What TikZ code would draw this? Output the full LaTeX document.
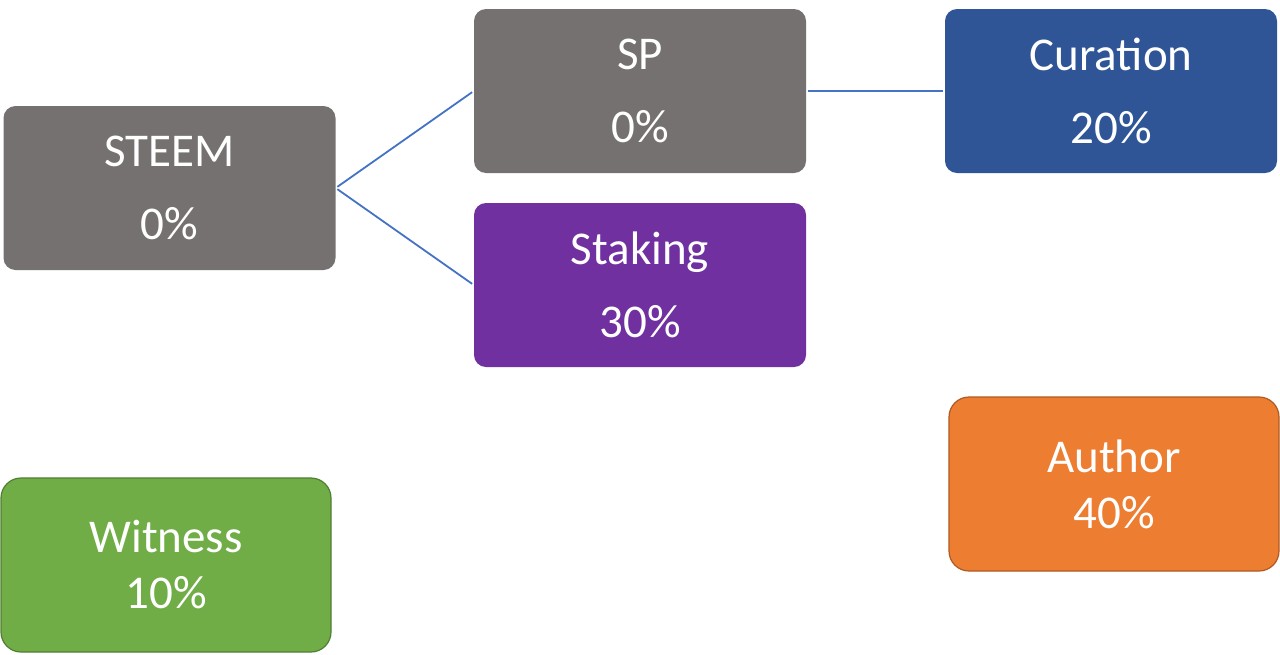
\documentclass[tikz,border=0pt]{standalone}
\usepackage{fontspec}
\setmainfont{Carlito}
\usepackage{xcolor}
\usetikzlibrary{positioning}

\definecolor{boxgrey}{HTML}{767171}
\definecolor{boxpurple}{HTML}{7030A0}
\definecolor{boxblue}{HTML}{2F5597}
\definecolor{boxorange}{HTML}{ED7D31}
\definecolor{edgeorange}{HTML}{AE5A21}
\definecolor{boxgreen}{HTML}{70AD47}
\definecolor{edgegreen}{HTML}{507E32}
\definecolor{linkblue}{HTML}{4472C4}

\begin{document}
\begin{tikzpicture}[x=1pt,y=-1pt,
    tok/.style={rounded corners=12pt,text=white,align=center,
      minimum width=332pt,minimum height=164pt,inner sep=0pt,
      font=\fontsize{47}{73}\selectfont},
    pool/.style={tok,rounded corners=20pt,minimum width=330pt,
      minimum height=174pt,line width=1.2pt,
      font=\fontsize{47}{56}\selectfont},
    link/.style={linkblue,line width=1.8pt,shorten <=2pt,shorten >=2pt}]
  \useasboundingbox (0,0) rectangle (1280,654);
  \node[tok,fill=boxgrey] (steem) at (169.5,188) {STEEM\\0\%};
  \node[tok,fill=boxgrey] (sp) at (640,91) {SP\\0\%};
  \node[tok,fill=boxpurple] (staking) at (640,285) {Staking\\30\%};
  \node[tok,fill=boxblue] (curation) at (1111,91) {Curation\\20\%};
  \node[pool,fill=boxorange,draw=edgeorange] (author) at (1114,484) {Author\\40\%};
  \node[pool,fill=boxgreen,draw=edgegreen] (witness) at (166,565) {Witness\\10\%};
  \draw[link] (steem.east) -- (sp.west);
  \draw[link] (steem.east) -- (staking.west);
  \draw[link] (sp.east) -- (curation.west);
\end{tikzpicture}
\end{document}
